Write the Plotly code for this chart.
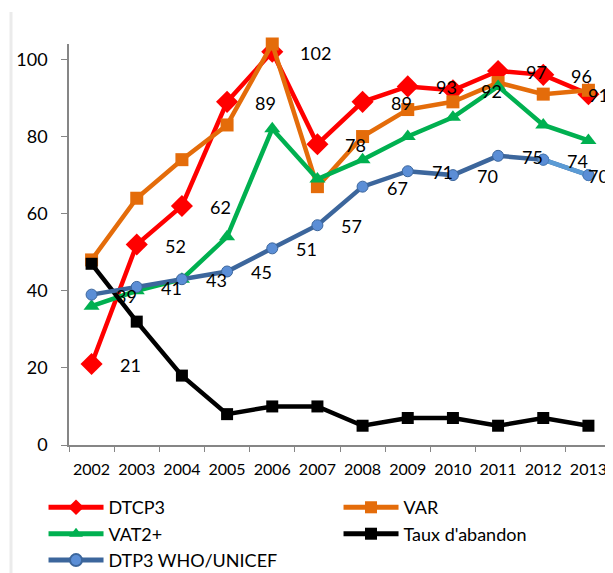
import plotly.graph_objects as go

years = ["2002", "2003", "2004", "2005", "2006", "2007", "2008", "2009", "2010", "2011", "2012", "2013"]
dtcp3 = [21, 52, 62, 89, 102, 78, 89, 93, 92, 97, 96, 91]
var = [48, 64, 74, 83, 104, 67, 80, 87, 89, 94, 91, 92]
vat2 = [36, 40, 43, 54, 82, 69, 74, 80, 85, 93, 83, 79]
abandon = [47, 32, 18, 8, 10, 10, 5, 7, 7, 5, 7, 5]
dtp3 = [39, 41, 43, 45, 51, 57, 67, 71, 70, 75, 74, 70]

FONT = "Lato, 'Open Sans', sans-serif"
# the page body adds an 8px offset; figure sized to fill the rest of the window
W, H = 605, 565
L, R, T, B = 61, 2, 36, 128
plot_w = W - L - R
plot_h = H - T - B

fig = go.Figure()

fig.add_trace(go.Scatter(
    x=years, y=dtcp3, name="DTCP3", mode="lines+markers",
    line=dict(color="#FF0000", width=4.5),
    marker=dict(symbol="diamond", size=17, color="#FF0000"),
    cliponaxis=False))
fig.add_trace(go.Scatter(
    x=years, y=var, name="VAR", mode="lines+markers",
    line=dict(color="#E46C0A", width=4.5),
    marker=dict(symbol="square", size=13, color="#E46C0A"),
    cliponaxis=False))
fig.add_trace(go.Scatter(
    x=years, y=vat2, name="VAT2+", mode="lines+markers",
    line=dict(color="#00B050", width=4.5),
    marker=dict(symbol="triangle-up", size=14, color="#00B050"),
    cliponaxis=False))
fig.add_trace(go.Scatter(
    x=years, y=abandon, name="Taux d'abandon", mode="lines+markers",
    line=dict(color="#000000", width=4.5),
    marker=dict(symbol="square", size=12, color="#000000"),
    cliponaxis=False))
fig.add_trace(go.Scatter(
    x=years, y=dtp3, name="DTP3 WHO/UNICEF", mode="lines+markers",
    line=dict(color="#3C669C", width=4.5),
    marker=dict(symbol="circle", size=11, color="#5B8ED6",
                line=dict(color="#3C669C", width=1)),
    cliponaxis=False))
# lighter last segment of the WHO/UNICEF series
fig.add_trace(go.Scatter(
    x=years[-2:], y=dtp3[-2:], name="DTP3 WHO/UNICEF", mode="lines+markers",
    showlegend=False,
    line=dict(color="#5B9BD5", width=4.5),
    marker=dict(symbol="circle", size=11, color="#5B8ED6",
                line=dict(color="#4A7EBB", width=1)),
    cliponaxis=False))

annotations = []
def add_labels(values, shift_left, shift_last, yshift):
    n = len(values)
    for i, v in enumerate(values):
        last = i == n - 1
        annotations.append(dict(
            x=i, y=v, xref="x", yref="y", text=str(v), showarrow=False,
            xanchor="center" if last else "left",
            xshift=shift_last if last else shift_left, yshift=yshift,
            font=dict(family=FONT, size=18, color="#000000")))

add_labels(dtcp3, 26, 10, -1)
add_labels(dtp3, 22, 10, -1)

fig.update_layout(
    width=W, height=H,
    margin=dict(l=L, r=R, t=T, b=B, pad=0, autoexpand=False),
    paper_bgcolor="#FFFFFF", plot_bgcolor="#FFFFFF",
    font=dict(family=FONT, size=18, color="#000000"),
    annotations=annotations,
    showlegend=True,
    legend=dict(
        orientation="h", x=-0.047, xanchor="left", y=-0.11, yanchor="top",
        entrywidth=225, entrywidthmode="pixels", itemwidth=55,
        itemsizing="constant",
        font=dict(family=FONT, size=18, color="#000000"),
        bgcolor="rgba(0,0,0,0)", tracegroupgap=0,
    ),
    shapes=[dict(type="line", xref="paper", yref="paper",
                 x0=(3 - L) / plot_w, x1=(3 - L) / plot_w,
                 y0=(H - B - 4) / plot_h, y1=-(B) / plot_h,
                 line=dict(color="#EBEBEB", width=3))],
)

fig.update_xaxes(
    type="category", range=[-0.5, 11.5], automargin=False, tickangle=0,
    showline=True, linecolor="#868686", linewidth=1.5,
    ticks="outside", tickson="boundaries", ticklen=5, tickcolor="#868686",
    ticklabelstandoff=9,
    showgrid=False, zeroline=False,
    tickfont=dict(family=FONT, size=16, color="#000000"),
)
fig.update_yaxes(
    range=[0, 104], tickvals=[0, 20, 40, 60, 80, 100], automargin=False,
    showline=True, linecolor="#868686", linewidth=1.5,
    ticks="outside", ticklen=6, tickcolor="#868686",
    ticklabelstandoff=10,
    showgrid=False, zeroline=False,
    tickfont=dict(family=FONT, size=18, color="#000000"),
)

fig.write_html("out.html")
